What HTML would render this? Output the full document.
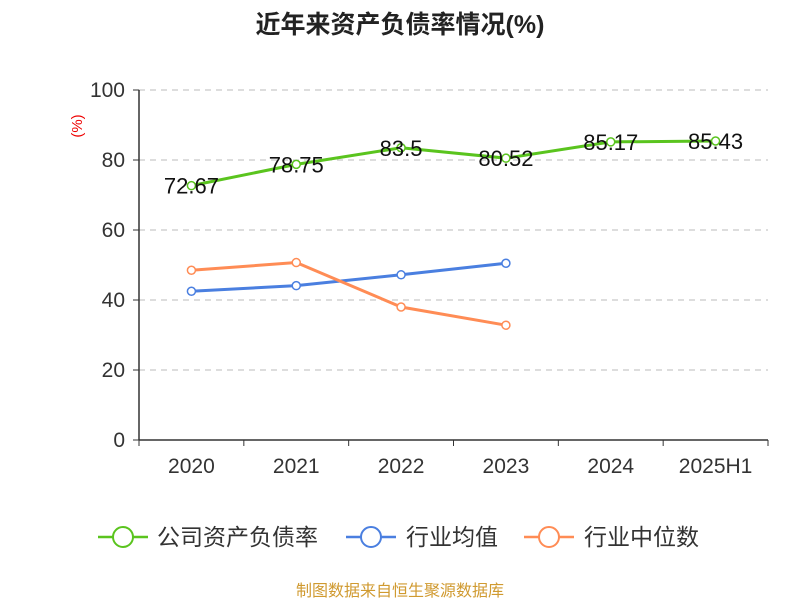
<!DOCTYPE html>
<html><head><meta charset="utf-8"><style>
body{margin:0;background:#fff;font-family:"Liberation Sans","Noto Sans CJK SC",sans-serif}
</style></head><body>
<svg width="800" height="600" xmlns="http://www.w3.org/2000/svg" font-family="Liberation Sans, Noto Sans CJK SC, sans-serif">
<text x="400" y="33" text-anchor="middle" font-size="25" font-weight="bold" fill="#222">近年来资产负债率情况(%)</text>
<text transform="translate(82,126) rotate(-90)" text-anchor="middle" font-size="15" fill="#e00">(%)</text>
<g id="grid"></g><g id="axes"></g><g id="series"></g>
<g>
<g><line x1="98" y1="537" x2="148" y2="537" stroke="#5ac41e" stroke-width="2.5"/><circle cx="123" cy="537" r="10" fill="#fff" stroke="#5ac41e" stroke-width="2"/><text x="157" y="545" font-size="23" fill="#333">公司资产负债率</text></g>
<g><line x1="346" y1="537" x2="396" y2="537" stroke="#4a7fe0" stroke-width="2.5"/><circle cx="371" cy="537" r="10" fill="#fff" stroke="#4a7fe0" stroke-width="2"/><text x="406" y="545" font-size="23" fill="#333">行业均值</text></g>
<g><line x1="524" y1="537" x2="574" y2="537" stroke="#ff8c55" stroke-width="2.5"/><circle cx="549" cy="537" r="10" fill="#fff" stroke="#ff8c55" stroke-width="2"/><text x="584" y="545" font-size="23" fill="#333">行业中位数</text></g>
</g>
<text x="400" y="596" text-anchor="middle" font-size="16" fill="#d09a30">制图数据来自恒生聚源数据库</text>
</svg>
<script>
const categories=["2020","2021","2022","2023","2024","2025H1"];
const companyValues=[72.67,78.75,83.5,80.52,85.17,85.43];
const avgValues=[42.5,44.1,47.2,50.5];
const medianValues=[48.5,50.7,38.0,32.8];
const yTicks=[0,20,40,60,80,100];
const NS="http://www.w3.org/2000/svg";
const x0=139,x1=768,yB=440,yT=90;
const bw=(x1-x0)/categories.length;
const X=i=>x0+bw*(i+0.5);
const Y=v=>yB-(v/100)*(yB-yT);
function mk(t,a,p){const e=document.createElementNS(NS,t);for(const k in a)e.setAttribute(k,a[k]);p.appendChild(e);return e;}
const grid=document.getElementById('grid'),axes=document.getElementById('axes'),ser=document.getElementById('series');
yTicks.forEach(v=>{
 if(v>0){const g=mk('line',{x1:x0,x2:x1,y1:Y(v),y2:Y(v),stroke:'#bbb','stroke-dasharray':'6,5'},grid);
 }
 const t=mk('text',{x:x0-14,y:Y(v)+7,'text-anchor':'end','font-size':21,fill:'#333'},axes);t.textContent=v;
 
 mk('line',{x1:x0-6,x2:x0,y1:Y(v),y2:Y(v),stroke:'#333'},axes);
});
const ya=mk('line',{x1:x0,x2:x0,y1:yT,y2:yB,stroke:'#333','stroke-width':1.5},axes);

const xa=mk('line',{x1:x0,x2:x1,y1:yB,y2:yB,stroke:'#333','stroke-width':1.5},axes);

for(let i=0;i<=categories.length;i++)mk('line',{x1:x0+bw*i,x2:x0+bw*i,y1:yB,y2:yB+6,stroke:'#333'},axes);
categories.forEach((c,i)=>{const t=mk('text',{x:X(i),y:473,'text-anchor':'middle','font-size':21,fill:'#333'},axes);t.textContent=c;
 });
function series(vals,color,name,labels){
 const g=mk('g',{},ser);
 mk('polyline',{points:vals.map((v,i)=>X(i)+','+Y(v)).join(' '),fill:'none',stroke:color,'stroke-width':3},g);
 vals.forEach((v,i)=>{const c=mk('circle',{cx:X(i),cy:Y(v),r:4,fill:'#fff',stroke:color,'stroke-width':1.5},g);
  
  if(labels){const t=mk('text',{x:X(i),y:Y(v)+8,'text-anchor':'middle','font-size':22,fill:'#111'},g);t.textContent=v;
   }});
}
series(avgValues,'#4a7fe0','avg-series',false);
series(medianValues,'#ff8c55','median-series',false);
series(companyValues,'#5ac41e','company-series',true);
</script>
</body></html>
